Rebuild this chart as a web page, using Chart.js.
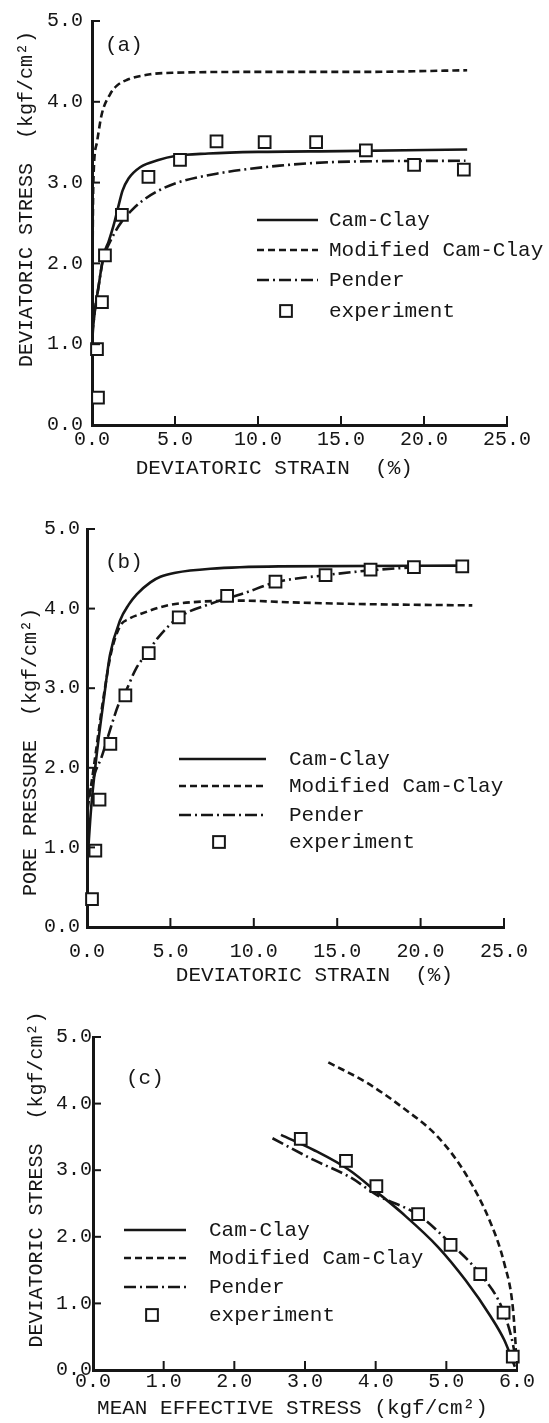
<!DOCTYPE html>
<html>
<head>
<meta charset="utf-8">
<script src="https://cdn.jsdelivr.net/npm/chart.js@4.4.1/dist/chart.umd.min.js"></script>
<style>
  body { margin: 0; background: #fff; }
  #figure { position: relative; width: 549px; height: 1423px; background: #fff; }
  #figure canvas { position: absolute; left: 0; }
</style>
</head>
<body>
<div id="figure">
  <canvas id="panelA" width="549" height="485" style="top:0px"></canvas>
  <canvas id="panelB" width="549" height="505" style="top:485px"></canvas>
  <canvas id="panelC" width="549" height="433" style="top:990px"></canvas>
</div>
<script>
const modelNames = ["Cam-Clay", "Modified Cam-Clay", "Pender", "experiment"];

// (a) deviatoric strain (%) vs deviatoric stress (kgf/cm2)
const camClayA = [[0, 0], [0.03, 1.0], [0.08, 1.24], [0.4, 1.72], [0.7, 2.1], [1.0, 2.27], [1.3, 2.47], [1.63, 2.74], [1.84, 2.9], [2.2, 3.05], [2.9, 3.19], [4, 3.28], [5, 3.33], [7, 3.36], [10, 3.38], [15, 3.39], [22.6, 3.41]];
const modCamClayA = [[0, 0], [0.02, 1.5], [0.05, 2.5], [0.08, 3.0], [0.3, 3.5], [0.58, 3.84], [1.08, 4.09], [1.5, 4.2], [2.09, 4.27], [3.5, 4.34], [5, 4.36], [10, 4.37], [16, 4.37], [22.6, 4.39]];
const penderA = [[0, 0], [0.03, 1.0], [0.08, 1.24], [0.4, 1.72], [0.7, 2.08], [1.0, 2.23], [1.42, 2.4], [1.8, 2.52], [2.4, 2.66], [3.0, 2.77], [4, 2.9], [5, 2.99], [7.5, 3.11], [11.3, 3.21], [15.5, 3.26], [22.5, 3.27]];
const testA = [[0.36, 0.34], [0.3, 0.94], [0.6, 1.52], [0.78, 2.1], [1.8, 2.6], [3.4, 3.07], [5.3, 3.28], [7.5, 3.51], [10.4, 3.5], [13.5, 3.5], [16.5, 3.4], [19.4, 3.22], [22.4, 3.16]];

// (b) deviatoric strain (%) vs pore pressure (kgf/cm2)
const camClayB = [[0.05, 0.9], [0.25, 1.5], [0.6, 2.2], [1.0, 2.85], [1.38, 3.42], [1.98, 3.85], [2.5, 4.05], [2.98, 4.18], [3.8, 4.33], [4.4, 4.4], [5.3, 4.45], [7.4, 4.5], [11.5, 4.53], [22.5, 4.54]];
const modCamClayB = [[0.05, 1.5], [0.4, 2.0], [0.86, 2.7], [1.15, 3.1], [1.45, 3.45], [1.98, 3.78], [2.5, 3.87], [3.18, 3.93], [4.8, 4.04], [6.3, 4.08], [9.3, 4.1], [12, 4.08], [15.7, 4.06], [23.1, 4.04]];
const penderB = [[0.05, 1.6], [0.5, 1.95], [0.85, 2.12], [1.3, 2.42], [1.9, 2.8], [2.3, 2.95], [2.95, 3.25], [3.68, 3.46], [4.2, 3.62], [5.5, 3.89], [7.4, 4.06], [9.5, 4.2], [11.3, 4.33], [14.3, 4.42], [17, 4.48], [19.6, 4.52]];
const testB = [[0.3, 0.35], [0.5, 0.96], [0.75, 1.6], [1.4, 2.3], [2.3, 2.91], [3.7, 3.44], [5.5, 3.89], [8.4, 4.16], [11.3, 4.34], [14.3, 4.42], [17.0, 4.49], [19.6, 4.52], [22.5, 4.53]];

// (c) mean effective stress vs deviatoric stress (kgf/cm2)
const camClayC = [[2.66, 3.53], [3.13, 3.3], [3.63, 3.0], [4.03, 2.66], [4.37, 2.36], [4.88, 1.85], [5.27, 1.35], [5.63, 0.8], [5.82, 0.45], [5.97, 0.05]];
const modCamClayC = [[3.33, 4.62], [3.88, 4.31], [4.37, 3.95], [4.88, 3.5], [5.27, 2.95], [5.63, 2.2], [5.82, 1.6], [5.94, 0.95], [6.0, 0.08]];
const penderC = [[2.54, 3.48], [3.13, 3.15], [3.63, 2.9], [4.03, 2.62], [4.6, 2.33], [5.06, 1.9], [5.48, 1.44], [5.78, 0.95], [5.93, 0.45], [6.0, 0.05]];
const testC = [[2.94, 3.47], [3.58, 3.14], [4.01, 2.76], [4.6, 2.34], [5.06, 1.88], [5.48, 1.44], [5.81, 0.86], [5.94, 0.2]];

const ink = "#161616";
const MONO = "'Liberation Mono', 'DejaVu Sans Mono', monospace";

const toXY = (pairs) => pairs.map(([x, y]) => ({ x, y }));

// tick marks point into the plot, drawn off the scales' own tick list
const innerTicks = {
  id: "innerTicks",
  afterDraw(chart) {
    const { ctx, chartArea, scales } = chart;
    ctx.save();
    ctx.strokeStyle = ink;
    ctx.lineWidth = 2;
    scales.x.ticks.forEach((t) => {
      const px = scales.x.getPixelForValue(t.value);
      ctx.beginPath();
      ctx.moveTo(px, chartArea.bottom);
      ctx.lineTo(px, chartArea.bottom - 9);
      ctx.stroke();
    });
    scales.y.ticks.forEach((t) => {
      const py = scales.y.getPixelForValue(t.value);
      ctx.beginPath();
      ctx.moveTo(chartArea.left, py);
      ctx.lineTo(chartArea.left + 8, py);
      ctx.stroke();
    });
    ctx.restore();
  },
};

// legend sitting inside the plot, line samples use each dataset's own dash
const keyBox = {
  id: "keyBox",
  afterDatasetsDraw(chart, args, opts) {
    const { ctx } = chart;
    ctx.save();
    ctx.font = `21px ${MONO}`;
    ctx.textBaseline = "middle";
    ctx.textAlign = "left";
    chart.data.datasets.forEach((ds, i) => {
      const y = opts.rows[i];
      ctx.strokeStyle = ink;
      if (ds.showLine) {
        ctx.setLineDash(ds.borderDash || []);
        ctx.lineWidth = ds.borderWidth;
        ctx.beginPath();
        ctx.moveTo(opts.lineFrom, y);
        ctx.lineTo(opts.lineTo, y);
        ctx.stroke();
      } else {
        const half = ds.pointRadius * Math.SQRT1_2;
        ctx.setLineDash([]);
        ctx.lineWidth = ds.pointBorderWidth;
        ctx.fillStyle = "#fff";
        ctx.fillRect(opts.markerX - half, y - half, half * 2, half * 2);
        ctx.strokeRect(opts.markerX - half, y - half, half * 2, half * 2);
      }
      ctx.fillStyle = ink;
      ctx.fillText(ds.label, opts.textX, y);
    });
    ctx.restore();
  },
};

const panelTag = {
  id: "panelTag",
  afterDraw(chart, args, opts) {
    const { ctx } = chart;
    ctx.save();
    ctx.font = `21px ${MONO}`;
    ctx.fillStyle = ink;
    ctx.textBaseline = "middle";
    ctx.fillText(opts.text, opts.x, opts.y);
    ctx.restore();
  },
};

function curve(label, pairs, dash) {
  return {
    label,
    data: toXY(pairs),
    showLine: true,
    borderColor: ink,
    borderWidth: 2.6,
    borderDash: dash,
    pointRadius: 0,
    cubicInterpolationMode: "monotone",
    fill: false,
  };
}

function panel(canvasId, cfg) {
  const canvas = document.getElementById(canvasId);
  const area = cfg.area;
  return new Chart(canvas, {
    type: "scatter",
    data: {
      datasets: [
        curve(modelNames[0], cfg.series[0], []),
        curve(modelNames[1], cfg.series[1], [7, 4]),
        curve(modelNames[2], cfg.series[2], [12, 4, 2, 4]),
        {
          label: modelNames[3],
          data: toXY(cfg.series[3]),
          showLine: false,
          pointStyle: "rect",
          pointRadius: 8.3,
          pointBorderWidth: 2,
          pointBorderColor: ink,
          pointBackgroundColor: "#fff",
          order: -1,
          clip: false,
        },
      ],
    },
    options: {
      responsive: false,
      animation: false,
      layout: {
        padding: { left: 0, top: area.top, right: canvas.width - area.right, bottom: 0 },
      },
      scales: {
        x: {
          type: "linear",
          min: 0,
          max: cfg.xMax,
          ticks: {
            stepSize: cfg.xStep,
            color: ink,
            font: { family: MONO, size: 20 },
            padding: cfg.xLabelPad,
            maxRotation: 0,
            autoSkip: false,
            callback: (v) => v.toFixed(1),
          },
          grid: { drawOnChartArea: false, drawTicks: false },
          border: { color: ink, width: 3 },
          title: {
            display: true,
            text: cfg.xTitle,
            color: ink,
            font: { family: MONO, size: 21 },
            padding: { top: 0, bottom: cfg.xTitlePad },
          },
          afterFit: (s) => { s.height = canvas.height - area.bottom; },
        },
        y: {
          type: "linear",
          min: 0,
          max: 5,
          ticks: {
            stepSize: 1,
            color: ink,
            font: { family: MONO, size: 20 },
            padding: cfg.yLabelPad,
            autoSkip: false,
            callback: (v) => v.toFixed(1),
          },
          grid: { drawOnChartArea: false, drawTicks: false },
          border: { color: ink, width: 3 },
          title: {
            display: true,
            text: cfg.yTitle,
            color: ink,
            font: { family: MONO, size: 20 },
            padding: { top: cfg.yTitlePad, bottom: 0 },
          },
          afterFit: (s) => { s.width = area.left; },
        },
      },
      plugins: {
        legend: { display: false },
        tooltip: { enabled: false },
        keyBox: cfg.key,
        panelTag: cfg.tag,
      },
    },
    plugins: [innerTicks, keyBox, panelTag],
  });
}

panel("panelA", {
  series: [camClayA, modCamClayA, penderA, testA],
  area: { left: 92, top: 15, right: 507, bottom: 425 },
  xMax: 25, xStep: 5,
  xLabelPad: 3, yLabelPad: 9,
  xTitle: "DEVIATORIC STRAIN  (%)    ", xTitlePad: 4,
  yTitle: "    DEVIATORIC STRESS  (kgf/cm²)", yTitlePad: 15,
  tag: { text: "(a)", x: 105, y: 45 },
  key: { lineFrom: 257, lineTo: 318, markerX: 286, textX: 329, rows: [220, 250, 280, 311] },
});

panel("panelB", {
  series: [camClayB, modCamClayB, penderB, testB],
  area: { left: 87, top: 44, right: 504, bottom: 442 },
  xMax: 25, xStep: 5,
  xLabelPad: 13, yLabelPad: 7,
  xTitle: "   DEVIATORIC STRAIN  (%)", xTitlePad: 2,
  yTitle: "PORE PRESSURE  (kgf/cm²)    ", yTitlePad: 19,
  tag: { text: "(b)", x: 105, y: 77 },
  key: { lineFrom: 179, lineTo: 266, markerX: 219, textX: 289, rows: [274, 301, 330, 357] },
});

panel("panelC", {
  series: [camClayC, modCamClayC, penderC, testC],
  area: { left: 93, top: 47, right: 517, bottom: 380 },
  xMax: 6, xStep: 1,
  xLabelPad: 0, yLabelPad: 1,
  xTitle: "MEAN EFFECTIVE STRESS (kgf/cm²)  ", xTitlePad: 2,
  yTitle: "    DEVIATORIC STRESS  (kgf/cm²)", yTitlePad: 25,
  tag: { text: "(c)", x: 126, y: 88 },
  key: { lineFrom: 124, lineTo: 186, markerX: 152, textX: 209, rows: [240, 268, 297, 325] },
});
</script>
</body>
</html>
